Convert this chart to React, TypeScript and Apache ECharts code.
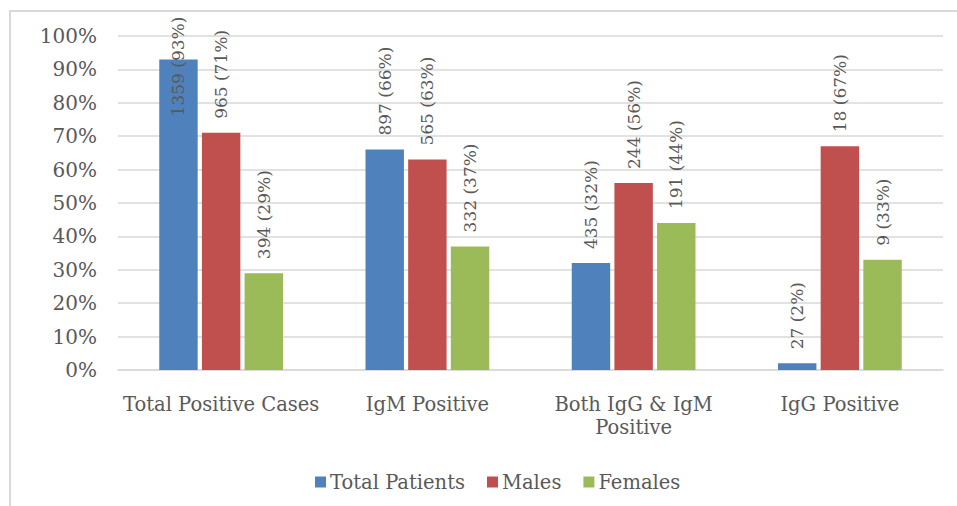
import React, { useEffect, useRef } from "react";
import * as echarts from "echarts";

const categories = ["Total Positive Cases", "IgM Positive", "Both IgG & IgM\nPositive", "IgG Positive"];
const seriesNames = ["Total Patients", "Males", "Females"];
const totalPct = [93, 66, 32, 2];
const totalCount = [1359, 897, 435, 27];
const malePct = [71, 63, 56, 67];
const maleCount = [965, 565, 244, 18];
const femalePct = [29, 37, 44, 33];
const femaleCount = [394, 332, 191, 9];
const colors = ["#4F81BD", "#C0504D", "#9BBB59"];

const FONT = "DejaVu Serif";
const TXT = "#595959";

export default function App() {
  const ref = useRef<HTMLDivElement>(null);
  useEffect(() => {
    if (!ref.current) return;
    const chart = echarts.init(ref.current, null, { renderer: "svg" });
    const pcts = [totalPct, malePct, femalePct];
    const counts = [totalCount, maleCount, femaleCount];
    const series = seriesNames.map((name, si) => ({
      name,
      type: "bar",
      barGap: "11%",
      barCategoryGap: "40%",
      itemStyle: { color: colors[si] },
      label: {
        show: true,
        position: "top",
        distance: 14,
        rotate: 90,
        align: "left",
        verticalAlign: "middle",
        fontFamily: FONT,
        fontSize: 17,
        color: TXT,
        formatter: (p: any) => `${counts[si][p.dataIndex]} (${pcts[si][p.dataIndex]}%)`,
      },
      data: pcts[si].map((v) =>
        v > 85
          ? { value: v, label: { position: ["50%", 57] } }
          : { value: v }
      ),
    }));
    chart.setOption({
      animation: false,
      color: colors,
      textStyle: { fontFamily: FONT, color: TXT },
      graphic: [
        {
          type: "rect",
          shape: { x: 10, y: 11, width: 1000, height: 1000 },
          style: { fill: "none", stroke: "#d9d9d9", lineWidth: 2 },
          silent: true,
        },
      ],
      grid: { left: 118, right: 14, top: 36, bottom: 136, containLabel: false },
      legend: {
        data: seriesNames,
        left: 310,
        top: 467,
        itemWidth: 11,
        itemHeight: 11,
        itemGap: 22,
        icon: "rect",
        textStyle: { fontFamily: FONT, fontSize: 19.5, color: TXT, padding: [0, 0, 0, -1] },
      },
      xAxis: {
        type: "category",
        data: categories,
        axisTick: { show: false },
        axisLine: { lineStyle: { color: "#d9d9d9", width: 1.5 } },
        axisLabel: {
          fontFamily: FONT,
          fontSize: 19.5,
          color: TXT,
          margin: 23,
          lineHeight: 23,
          interval: 0,
        },
      },
      yAxis: {
        type: "value",
        min: 0,
        max: 100,
        interval: 10,
        axisLine: { show: false },
        axisTick: { show: false },
        splitLine: { lineStyle: { color: "#d9d9d9", width: 1.5 } },
        axisLabel: {
          formatter: "{value}%",
          fontFamily: FONT,
          fontSize: 20,
          color: TXT,
          margin: 21,
        },
      },
      series,
    });
    return () => chart.dispose();
  }, []);
  return (
    <div
      ref={ref}
      style={{ position: "absolute", left: 0, top: 0, width: 957, height: 506, background: "#fff" }}
    />
  );
}
